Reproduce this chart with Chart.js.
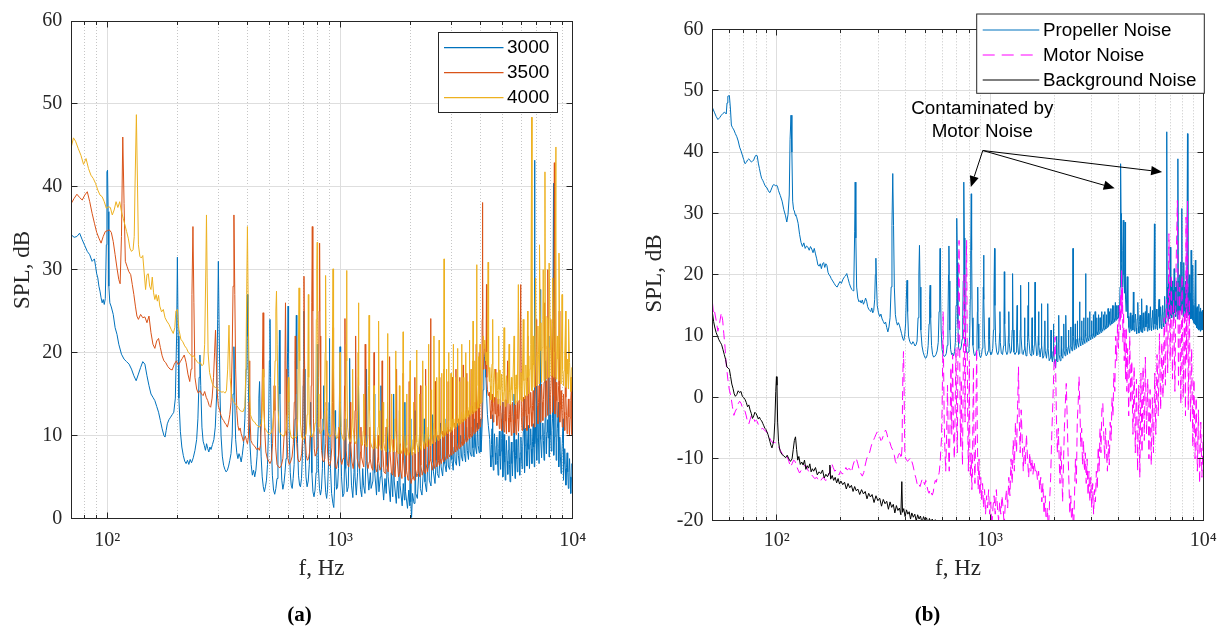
<!DOCTYPE html>
<html>
<head>
<meta charset="utf-8">
<title>SPL spectra</title>
<script src="https://cdn.jsdelivr.net/npm/chart.js@4.4.1/dist/chart.umd.min.js"></script>
<style>
  html, body { margin: 0; padding: 0; background: #ffffff; width: 1225px; height: 628px; overflow: hidden; }
  canvas { position: absolute; left: 0; top: 0; }
</style>
</head>
<body>
<canvas id="panelA" width="1225" height="628"></canvas>
<canvas id="panelB" width="1225" height="628"></canvas>
<script>
// ---------- axis ticks and labels ----------
const xDecades = [100, 1000, 10000];
const xDecadeText = ['10\u00B2', '10\u00B3', '10\u2074'];
const minorSteps = [2, 3, 4, 5, 6, 7, 8, 9];
const yTicksA = [0, 10, 20, 30, 40, 50, 60];
const yTicksB = [-20, -10, 0, 10, 20, 30, 40, 50, 60];
const rpmLabels = ['3000', '3500', '4000'];
const sourceLabels = ['Propeller Noise', 'Motor Noise', 'Background Noise'];
const noteLines = ['Contaminated by', 'Motor Noise'];
// annotation anchor points [f (Hz), SPL (dB)]
const noteTextAt = [[920, 47.1], [920, 43.3]];
const noteFrom = [925, 40.25];
const noteTips = [[813, 34.3], [3842, 34.1], [6412, 36.75]];

// ---------- (a) spectra at three rotor speeds, flat [f, SPL, f, SPL, ...] ----------
const spl3000 = [
70,34.2, 72,33.9, 74,34.0, 76,34.4, 78,33.6, 80,32.9, 82,32.2, 84,31.8, 86,31.0, 88,31.3, 89,30.4, 90,29.5, 91,29.0, 92,28.0, 93,27.4, 94,26.6, 95,26.0, 96,26.4, 97,25.8, 98,26.5, 99,33, 99.6,41.8, 100.2,42, 100.8,37, 101.5,28, 102.5,26.0, 104,25.5, 106,24.6, 108,23.0, 110,22.2, 112,21.0, 115,19.8, 118,19.2, 121,18.9, 124,18.6, 127,18.0, 130,17.2, 133,16.6, 136,17.4, 139,18.2, 142,18.9, 145,18.6, 148,17.2, 151,16.0, 154,15.0, 157,14.6, 160,14.2, 163,13.5, 166,12.8, 169,11.8, 172,10.8, 175,10.0, 177,9.8, 179,10.6, 181,11.4, 184,11.9, 187,12.2, 190,12.5, 193,12.8, 196,14.5, 198.5,22, 200,31.5, 201.5,22, 203,14.5, 206,10.5, 209,8.6, 212,7.6, 215,6.9, 218,6.6, 221,7.0, 224,6.5, 227,7.1, 230,6.7, 234,7.3, 238,8.2, 242,9.5, 245,12, 248,17, 250,19.7, 252,16, 255,11, 258,9.3, 261,8.8, 264,8.2, 267,9.0, 270,8.4, 273,8.0, 276,8.6, 279,8.3, 283,8.9, 287,9.5, 291,11, 295,15, 298,24, 300,31, 302,24, 305,15, 308,10, 312,7.5, 316,6.4, 320,5.9, 324,5.6, 328,5.8, 332,6.3, 336,7.0, 340,7.8, 344,10, 347,15, 350,20.7, 353,14, 356,9.5, 360,7.9, 364,7.2, 368,7.8, 372,7.4, 376,6.8, 380,7.6, 385,9, 390,12, 395,18, 398,24, 400,27, 402,22, 405,14, 410,9, 415,6.5, 420,5.2, 425,5.8, 430,5.0, 435,5.8, 440,7.5, 445,11, 448,14.5, 451,16.5, 454,12, 458,7.5, 463,5.0, 468,3.8, 473,3.2, 478,3.8, 483,4.6, 488,6.5, 493,11, 497,19, 500,24, 503,17, 507,9, 512,5.2, 518,3.4, 524,2.9, 530,3.6, 536,4.8, 541,8, 546,16, 549,22.7, 552,15, 556,8, 562,4.6, 568,3.5, 574,4.2, 580,5.5, 586,7.2, 591,12, 595,20, 598,25.6, 601,20, 605,10, 611,5.5, 617,4.0, 623,3.6, 629,4.8, 635,6.5, 641,12, 646,20, 649,24.5, 652,18, 657,9, 663,5.2, 670,4.0, 676,3.8, 683,4.8, 690,8, 695,16, 699,25, 702,18, 707,9, 714,5.0, 722,3.8, 730,4.5, 738,6.5, 744,10, 748,14, 751,10, 757,5.5, 765,3.2, 773,2.6, 781,3.4, 789,5.5, 795,11, 799,21, 802,14, 808,6, 816,3.6, 824,2.8, 832,3.5, 840,6, 846,12, 850,16, 853,10, 860,5.2, 868,3.1, 876,2.4, 884,3.5, 892,6.5, 897,14, 900,21.7, 903,14, 910,6, 920,3.0, 932,1.8, 940,1.3, 948,3.8, 952,13, 957,6, 966,3.5, 976,3.8, 985,6, 993,13, 1000,20.7, 1006,11, 1015,5, 1028,2.6, 1040,3.0, 1047,8, 1052,12, 1058,6, 1072,3.2, 1085,3.8, 1094,9, 1100,19.3, 1106,9, 1120,4.0, 1135,2.5, 1148,5.5, 1153,10, 1160,5, 1175,2.8, 1190,5.5, 1200,17, 1208,7, 1225,3.5, 1240,2.6, 1252,6, 1262,4, 1280,3, 1292,7, 1300,18, 1308,6.5, 1330,3.4, 1350,5.5, 1360,3.6, 1385,4.5, 1400,15, 1410,5.5, 1435,2.8, 1452,6.5, 1470,3.2, 1490,5, 1500,16, 1510,5.5, 1540,2.2, 1560,4.8, 1580,3.0, 1592,6, 1600,14, 1610,5, 1645,2.0, 1660,5.5, 1685,2.6, 1695,6.5, 1700,15, 1710,4.5, 1745,1.8, 1765,4.5, 1790,2.4, 1800,13, 1812,4, 1850,1.5, 1870,4.2, 1892,2.2, 1900,14, 1912,3.2, 1950,1.2, 1975,3.4, 1995,1.5, 2000,12, 2015,2.0, 2030,0.1, 2050,3.0, 2080,1.8, 2100,13, 2115,3.0, 2150,2.4, 2175,5.0, 2200,11, 2215,3.6, 2250,2.8, 2280,5.6, 2300,12, 2318,4.4, 2355,3.2, 2380,6.2, 2400,11, 2420,4.6, 2460,3.9, 2485,6.8, 2500,12.5, 2520,5.6, 2560,4.2, 2590,7.0, 2600,10.5, 2620,5.4, 2660,4.9, 2690,7.6, 2700,11.5, 2720,6.2, 2760,5.1, 2790,7.2, 2800,12, 2820,6.6, 2860,5.6, 2890,8.1, 2900,10.5, 2920,6.3, 2960,5.9, 2990,8.4, 3000,11, 3025,7.1, 3065,5.8, 3090,8.6, 3100,10, 3125,6.9, 3165,6.4, 3190,9.0, 3200,11.5, 3225,7.6, 3265,6.3, 3290,9.1, 3300,10, 3325,7.5, 3365,6.9, 3390,9.5, 3400,12, 3425,7.8, 3465,6.8, 3490,9.7, 3500,11, 3525,8.2, 3565,7.1, 3590,9.6, 3600,12.5, 3625,8.0, 3665,7.5, 3690,10.1, 3700,11, 3725,8.5, 3765,7.4, 3790,10.2, 3800,12, 3825,8.6, 3865,7.8, 3890,10.4, 3900,11.5, 3925,8.8, 3965,7.9, 3990,10.5, 4000,12, 4030,8.0, 4060,9.5, 4090,12, 4120,15.5, 4150,18, 4180,19.5, 4210,20, 4240,17, 4270,14.5, 4300,12.5, 4340,11.2,
4400,9.5, 4425,7.6, 4450,6.2, 4475,8.9, 4500,10.8, 4520,12.5, 4540,7.4, 4560,5.8, 4585,8.6, 4610,10.2, 4640,7.9, 4670,6.5, 4695,8.7, 4720,9.8, 4750,7.0, 4780,5.2, 4810,8.4, 4840,10.5, 4870,7.5, 4900,5.9, 4925,8.1, 4950,9.6, 5000,14, 5010,5.0, 5040,8.0, 5070,10.1, 5100,6.8, 5130,4.6, 5160,7.6, 5190,9.4, 5225,6.9, 5260,5.3, 5290,8.2, 5320,9.9, 5350,6.5, 5380,4.4, 5415,7.4, 5450,9.2, 5480,6.6, 5510,5.1, 5545,8.1, 5580,10.0, 5600,15, 5625,7.2, 5650,4.8, 5680,7.6, 5710,9.5, 5745,7.2, 5780,5.6, 5815,8.5, 5850,10.3, 5885,7.3, 5920,5.2, 5955,7.9, 5990,9.8, 6025,7.4, 6060,6.0, 6100,8.7, 6140,10.6, 6200,14.5, 6210,5.5, 6250,8.8, 6290,10.9, 6325,8.1, 6360,6.3, 6400,9.2, 6440,11.2, 6480,8.3, 6520,6.0, 6560,8.9, 6600,10.8, 6640,8.4, 6680,6.6, 6720,9.3, 6760,11.4, 6800,8.6, 6840,6.2, 6850,43.2, 6885,9.0, 6920,11.0, 6960,8.9, 7000,16, 7010,7.0, 7050,9.6, 7090,11.8, 7130,9.2, 7170,6.6, 7250,27.6, 7260,12.0, 7305,9.5, 7350,7.3, 7395,10.0, 7440,11.5, 7485,9.4, 7530,7.0, 7575,10.1, 7620,12.2, 7650,19, 7680,9.8, 7710,7.8, 7755,10.4, 7800,11.9, 7850,9.7, 7900,22, 7910,7.4, 7950,10.2, 7990,12.5, 8040,10.0, 8090,8.1, 8140,10.6, 8190,12.0, 8270,40.4, 8290,7.6, 8340,9.8, 8390,11.6, 8450,17, 8490,7.0, 8540,9.1, 8590,10.8, 8700,14, 8710,6.2, 8755,8.3, 8800,9.8, 8855,7.5, 8910,5.4, 8965,7.4, 9020,9.0, 9100,12, 9130,4.6, 9185,6.6, 9240,8.4, 9295,6.0, 9350,4.0, 9405,6.1, 9460,7.9, 9520,5.6, 9580,3.6, 9635,5.5, 9690,7.2, 9750,5.0, 9810,3.0, 9870,4.9, 9930,6.6, 10000,3.2
];

const spl3500 = [
70,38.0, 72,38.6, 74,39.1, 76,38.7, 78,38.4, 80,39.0, 82,39.4, 84,38.2, 86,36.8, 88,35.6, 90,34.5, 92,33.8, 94,33.2, 96,34.0, 98,34.6, 100,34.7, 102,34.8, 104,34.5, 106,33.4, 108,31.8, 110,30.2, 112,28.8, 113.5,28.3, 115,34, 116.5,46, 118,38, 119.5,31, 121.5,30.4, 123.5,29.8, 126,29.4, 128,28.2, 130,27.0, 132,25.6, 134,24.4, 136,24.0, 139,24.6, 142,24.2, 145,24.3, 148,23.6, 151,24.4, 154,22.4, 157,21.0, 160,20.5, 163,21.4, 166,21.7, 169,20.6, 172,19.6, 175,19.0, 178,18.8, 182,18.3, 186,18.0, 190,17.9, 194,18.6, 198,19.0, 202,18.5, 206,18.9, 210,19.3, 214,19.7, 218,18.8, 222,17.4, 226,16.5, 229,18, 231,27, 233.3,35.2, 235.5,26, 238,17, 242,15.6, 246,15.1, 250,15.4, 254,15.0, 258,14.8, 262,15.3, 266,14.6, 270,14.2, 274,13.6, 278,13.4, 282,14.5, 286,17, 289,20, 291.7,22.7, 294,19, 297,15, 300,13.6, 304,13.0, 308,12.4, 312,12.0, 316,11.8, 320,11.5, 324,11.3, 328,11.0, 332,11.6, 336,12.5, 340,14, 344,20, 347,28, 350,36.6, 353,27, 356,18, 360,13, 364,11.2, 368,10.6, 372,10.9, 376,10.2, 380,9.8, 384,9.3, 388,9.6, 392,9.9, 396,9.4, 400,9.0, 404,9.8, 407,14, 408.3,19, 410,13, 414,9.4, 420,9.0, 426,8.8, 432,8.6, 438,8.3, 444,8.5, 450,8.2, 455,8.8, 460,12, 464,18, 467,24.8, 470,17, 474,11, 480,8.0, 487,7.2, 494,6.9, 500,6.6, 507,7.0, 513,9, 518,13, 521,16, 525,13, 529,8.5, 536,6.5, 544,6.2, 552,6.1, 560,6.4, 568,7.2, 575,10, 580,19, 583,26, 586,18, 590,10, 597,7.2, 605,6.5, 613,6.8, 622,7.4, 630,9, 636,14, 640,19, 642,22, 645,15, 650,9.5, 658,7.2, 667,6.8, 676,7.0, 684,7.8, 691,10, 696,18, 700,29.2, 704,19, 709,10, 716,7.6, 724,7.0, 732,7.2, 740,8.0, 747,10, 752,16, 756,26, 760,35.2, 764,25, 769,12, 775,8.4, 782,7.5, 790,7.8, 798,8.5, 804,11, 809,17, 813,25, 817,33.2, 821,22, 826,12, 833,8.2, 842,7.0, 851,6.8, 860,7.2, 868,9, 872,14, 875,19, 878,13, 884,8.0, 893,6.6, 903,6.3, 913,7.0, 922,8.5, 928,14, 933,23, 938,13, 945,7.6, 955,6.2, 966,6.0, 976,6.8, 985,7.6, 990,11, 993,15, 997,9, 1006,7.0, 1018,6.5, 1030,7.2, 1040,10, 1046,16, 1050,24.1, 1054,15, 1062,8.2, 1075,6.6, 1090,6.2, 1100,7.5, 1108,14, 1112,9, 1125,6.8, 1140,6.0, 1152,7.4, 1160,13, 1167,22, 1173,12, 1185,7.2, 1200,6.4, 1215,6.0, 1225,8, 1230,11, 1235,7.5, 1250,6.8, 1265,6.2, 1275,9, 1283,21, 1290,10, 1305,6.6, 1320,6.0, 1335,6.8, 1342,11, 1348,7.2, 1365,6.2, 1382,5.8, 1393,9, 1400,20, 1407,9, 1422,6.0, 1440,5.6, 1455,7.5, 1460,10, 1465,7, 1485,5.8, 1505,6.2, 1512,10, 1517,19, 1524,8.5, 1545,5.6, 1565,5.4, 1573,8, 1578,11, 1585,6.5, 1610,5.6, 1626,8, 1633,19.5, 1640,8, 1665,5.4, 1685,5.2, 1692,9.5, 1700,6.4, 1725,5.0, 1742,8, 1750,18, 1758,7.5, 1785,5.0, 1805,5.6, 1812,9, 1818,6, 1845,4.8, 1860,8, 1867,17.5, 1875,7, 1900,5.0, 1918,5.4, 1925,8.5, 1932,5.8, 1960,4.6, 1976,8, 1983,16.5, 1992,6, 2020,4.2, 2040,4.8, 2050,8, 2058,5.2, 2085,4.6, 2094,7.5, 2100,17, 2108,6, 2140,5.0, 2160,5.4, 2168,8.5, 2175,5.8, 2205,5.0, 2217,16, 2226,6.4, 2255,5.2, 2278,5.8, 2285,9, 2292,6.0, 2322,5.4, 2333,18, 2342,6.6, 2375,5.6, 2395,6.2, 2402,9.5, 2410,6.4, 2440,7, 2450,24.1, 2460,7.2, 2490,5.8, 2512,6.4, 2520,10, 2528,6.6, 2555,6.0, 2567,16.5, 2576,7.0, 2605,6.2, 2628,6.8, 2637,10, 2645,7.0, 2672,6.4, 2683,17, 2692,7.2, 2725,6.6, 2745,7.2, 2755,10.5, 2762,7.4, 2790,6.8, 2800,18, 2810,7.6, 2840,7.0, 2862,7.4, 2870,11, 2878,7.6, 2905,7.2, 2917,16.5, 2928,7.8, 2960,7.4, 2980,7.8, 2988,11, 2996,8.0, 3025,7.6, 3033,17, 3045,8.2, 3075,7.8, 3100,8.2, 3108,11.5, 3116,8.4, 3140,8.0, 3150,18, 3160,8.6, 3195,8.2, 3215,8.8, 3225,12, 3235,8.8, 3255,8.4, 3267,17, 3278,9.0, 3305,8.6, 3330,9.2, 3342,12, 3352,9.2, 3372,8.8, 3383,18.5, 3395,9.4, 3420,9.0, 3450,9.6, 3458,12.5, 3468,9.6, 3490,9.2, 3500,17.5, 3512,9.8, 3540,9.4, 3565,10, 3575,13, 3585,10, 3605,9.6, 3617,18, 3630,10.2, 3660,9.8, 3685,10.4, 3692,13.5, 3702,10.4, 3722,10.0, 3733,19, 3745,10.6, 3775,10.2, 3800,10.8, 3810,14, 3820,10.8, 3840,10.4, 3850,21, 3862,11.0, 3890,10.6, 3915,11.2, 3925,14, 3935,11.2, 3955,10.8, 3967,20, 3980,11.4, 4010,11.0, 4040,12, 4070,14, 4083,24, 4092,33, 4100,38.1, 4108,30, 4120,18, 4150,19.5, 4180,21, 4210,20, 4240,18, 4260,28.2, 4275,17, 4300,15.5, 4340,14.8, 4380,15.2,
4400,14.6, 4425,13.0, 4450,12.0, 4475,13.8, 4500,15.0, 4530,12.9, 4560,11.6, 4585,13.4, 4610,14.6, 4640,12.6, 4670,18, 4695,12.4, 4720,11.2, 4750,13.2, 4780,14.4, 4810,12.3, 4840,10.8, 4870,12.9, 4900,14.2, 4925,12.0, 4950,10.6, 4980,12.7, 5010,14.0, 5040,11.8, 5070,10.4, 5100,12.6, 5130,14.3, 5160,11.7, 5190,10.2, 5250,19, 5285,12.1, 5320,10.4, 5350,12.5, 5380,13.8, 5415,11.6, 5450,10.0, 5480,12.3, 5510,14.0, 5545,11.9, 5580,10.3, 5615,12.4, 5650,13.7, 5680,11.5, 5710,10.1, 5745,12.6, 5780,14.2, 5815,12.0, 5850,10.5, 5915,13.8, 5980,28.2, 6020,12.2, 6060,10.6, 6100,12.9, 6140,14.6, 6175,12.3, 6210,10.8, 6250,13.0, 6290,14.8, 6325,12.4, 6360,10.6, 6420,22, 6440,15.0, 6480,12.6, 6520,10.9, 6560,13.4, 6600,15.2, 6640,12.8, 6680,11.1, 6720,13.6, 6760,15.4, 6800,13.0, 6840,11.0, 6880,13.8, 6920,15.6, 7000,24, 7045,13.6, 7090,11.4, 7130,14.0, 7170,16.0, 7215,13.9, 7260,11.6, 7305,14.2, 7350,16.2, 7395,14.0, 7440,11.8, 7485,14.3, 7530,16.4, 7580,26, 7620,12.2, 7665,14.6, 7710,16.6, 7755,14.4, 7800,12.4, 7830,30, 7900,16.8, 7945,14.6, 7990,12.6, 8040,14.9, 8090,17.0, 8170,24, 8190,12.8, 8240,14.9, 8290,16.8, 8340,42.9, 8390,12.6, 8440,14.6, 8490,16.4, 8540,14.2, 8590,12.2, 8645,14.1, 8700,16.0, 8750,25, 8800,11.6, 8855,13.6, 8910,15.4, 8965,13.2, 9020,11.0, 9075,13.1, 9130,15.0, 9185,12.8, 9240,10.6, 9330,20, 9350,14.6, 9405,12.4, 9460,10.2, 9520,12.3, 9580,14.4, 9635,12.2, 9690,10.0, 9750,12.1, 9810,14.2, 9900,17, 9930,10.1, 9965,12.0, 10000,13.0
];

const spl4000 = [
70,44.8, 71.5,45.9, 73,45.5, 75,44.6, 77,43.8, 79,42.7, 81,43.4, 83,42.2, 85,41.4, 87,41.0, 89,40.4, 91,39.6, 93,39.0, 95,38.8, 97,38.2, 99,37.4, 101,37.6, 103,37.5, 105,36.6, 107,37.2, 109,38.2, 111,37.5, 113,38.2, 115,37.0, 117,36.2, 119,35.4, 121,34.6, 123,33.8, 125,32.6, 127,32.2, 129,32.4, 130.5,34, 131.5,40, 133.3,48.7, 134.8,40, 136,33, 138,31.6, 140,31.4, 142,31.7, 144,29.6, 146,27.6, 148,29.4, 150,29.5, 152,28.0, 154,27.6, 156,29.1, 158,27.2, 160,26.4, 162,27.0, 164,26.2, 166,26.9, 168,25.6, 171,24.9, 174,25.2, 177,24.2, 180,23.8, 184,23.4, 188,22.8, 192,22.3, 195,23, 197,25, 200,25.2, 203,22.8, 207,21.6, 211,21.3, 215,20.8, 219,20.5, 223,20.0, 227,19.8, 231,19.5, 235,19.6, 239,19.2, 243,18.9, 247,18.7, 251,18.8, 255,18.4, 259,18.6, 262,21, 265,30, 266.7,36.6, 268.5,29, 271,20, 275,17.6, 279,16.8, 283,16.2, 287,15.9, 291,15.8, 295,15.7, 299,15.5, 303,15.4, 307,15.3, 311,15.2, 315,15.3, 320,15.1, 325,15.4, 329,18, 333.3,23.3, 337,17, 342,14.6, 348,14.1, 354,13.8, 360,13.6, 366,13.3, 372,13.0, 378,12.9, 384,12.9, 390,13.5, 394,18, 397,27, 400,35.2, 403,26, 407,16, 412,12.5, 418,12.0, 424,11.7, 430,11.6, 436,11.3, 442,11.2, 448,11.0, 454,11.1, 460,11.5, 464,14, 467,18, 470,13, 475,10.9, 482,10.6, 490,10.3, 498,10.1, 506,10.3, 514,11, 520,13, 526,19, 530,25, 533.3,27.4, 537,21, 542,13, 548,10.5, 555,10.2, 563,10.0, 571,9.9, 579,10.2, 587,10.6, 593,12.5, 597,15.5, 600,17, 603,14, 608,10.8, 616,9.8, 625,9.6, 634,9.9, 643,9.7, 652,9.9, 658,12, 662,20, 666.7,27.8, 671,19, 676,11.5, 684,9.8, 692,9.5, 700,9.6, 708,9.9, 716,10.2, 722,12.5, 727,17, 731,27, 734,17, 739,11.5, 748,10.0, 757,9.8, 766,10.2, 775,10.5, 782,11.5, 787,15, 791,24, 795,30, 798,33.3, 801,25, 805,15, 811,11, 820,10.2, 830,10.4, 840,10.6, 850,10.8, 858,13, 863,20, 867,29.3, 871,19, 876,12, 885,10.4, 895,10.0, 905,9.8, 915,10.1, 922,12.5, 927,20, 933,30.1, 938,18, 944,11.5, 955,10.2, 967,9.6, 978,9.8, 990,11, 996,15, 1000,20, 1004,14, 1012,10.4, 1025,9.7, 1038,9.4, 1050,9.8, 1058,13, 1063,21, 1067,29.9, 1071,19, 1078,11, 1092,9.6, 1106,9.2, 1118,9.8, 1128,12, 1133,18, 1138,11, 1152,9.4, 1168,9.0, 1182,9.6, 1190,13, 1196,20, 1200,26, 1205,16, 1214,10, 1230,9.2, 1248,8.8, 1258,10.5, 1265,15, 1271,10, 1288,8.8, 1305,8.6, 1318,9.8, 1326,16, 1333,24.5, 1340,13, 1352,9.2, 1370,8.6, 1388,8.4, 1396,11, 1400,16, 1405,10.5, 1425,8.6, 1445,8.4, 1458,11, 1463,17, 1467,23.8, 1472,13, 1485,8.8, 1505,8.2, 1525,8.4, 1533,14, 1540,9.2, 1560,8.2, 1580,8.0, 1592,12, 1600,22.3, 1607,11, 1625,8.4, 1645,8.0, 1660,9.6, 1667,15, 1674,9.0, 1695,8.0, 1715,8.2, 1726,12, 1733,20.2, 1740,10.5, 1760,8.2, 1780,7.8, 1792,9.8, 1800,16, 1808,9.0, 1830,7.8, 1848,8.2, 1860,12, 1867,22.5, 1874,10.5, 1895,8.0, 1915,7.6, 1926,10, 1933,15, 1940,8.8, 1962,7.6, 1982,8.0, 1993,11, 2000,19, 2008,9.0,
2040,7.6, 2062,9.5, 2067,14, 2074,8.4, 2105,7.8, 2126,10, 2133,20.3, 2141,9.2, 2172,8.0, 2194,10, 2200,15, 2207,8.8, 2238,8.2, 2260,10.5, 2267,19, 2275,9.4, 2305,8.4, 2327,10.2, 2333,16, 2341,9.2, 2372,8.6, 2393,11, 2400,21, 2408,9.8, 2438,8.8, 2460,10.6, 2467,15.5, 2475,9.6, 2505,9.0, 2526,11.5, 2533,22, 2541,10.2, 2572,9.2, 2594,10.8, 2600,17, 2608,10.0, 2638,9.4, 2660,11.5, 2667,21.5, 2675,10.4, 2705,9.6, 2727,11, 2733,17.5, 2741,10.2, 2772,9.8, 2793,16, 2800,31.3, 2806,14, 2813,10.6, 2838,10.0, 2860,11.5, 2867,18, 2875,10.6, 2905,10.2, 2927,11.8, 2933,20, 2941,10.8, 2972,10.4, 2994,11.5, 3000,17.5, 3008,10.8, 3038,10.6, 3060,12, 3067,21, 3075,11.2, 3105,10.8, 3127,12, 3133,17, 3141,11.2, 3172,11.0, 3194,12.4, 3200,20.5, 3208,11.6, 3238,11.2, 3260,12.5, 3267,16.5, 3275,11.6, 3305,11.4, 3327,12.8, 3333,21, 3341,12.0, 3372,11.6, 3394,12.8, 3400,17, 3408,12.0, 3438,11.8, 3460,13, 3467,20, 3475,12.2, 3505,12.0, 3527,13.2, 3533,16.5, 3541,12.4, 3572,12.2, 3594,13.4, 3600,21.5, 3608,12.6, 3638,12.4, 3660,13.6, 3667,18, 3675,12.8, 3705,12.6, 3727,16, 3733,23.8, 3741,13.0, 3772,12.8, 3794,14, 3800,19, 3808,13.2, 3840,13.0, 3860,20, 3867,30.6, 3874,16, 3905,13.2, 3927,14.2, 3933,19.5, 3941,13.4, 3972,13.4, 3994,14.6, 4000,21, 4008,13.8, 4040,14, 4070,16, 4100,19, 4130,22, 4160,20.5, 4190,21.5, 4220,19, 4250,20, 4280,18.5, 4310,22, 4330,30.9, 4350,18, 4380,16.5,
4400,18.2, 4425,16.0, 4450,14.3, 4475,16.9, 4500,18.6, 4530,24, 4545,15.6, 4560,14.0, 4585,16.4, 4610,18.0, 4640,16.2, 4670,14.6, 4695,16.6, 4720,17.6, 4750,15.4, 4780,13.8, 4800,22, 4820,15.6, 4840,17.9, 4870,15.5, 4900,13.6, 4925,15.9, 4950,17.4, 4980,15.2, 5010,14.1, 5070,23, 5100,15.3, 5130,13.5, 5160,15.8, 5190,17.2, 5225,15.4, 5260,13.9, 5330,21, 5355,15.2, 5380,13.7, 5415,15.6, 5450,17.0, 5480,15.5, 5510,14.2, 5600,22, 5625,15.6, 5650,13.8, 5680,15.9, 5710,17.3, 5745,15.6, 5780,14.0, 5840,28.2, 5880,16.0, 5920,14.3, 5955,16.3, 5990,17.6, 6025,15.8, 6060,14.1, 6130,24, 6170,16.6, 6210,14.4, 6250,16.8, 6290,18.5, 6325,16.5, 6360,14.8, 6400,25, 6420,17.0, 6440,19.6, 6480,17.2, 6520,15.0, 6560,18.0, 6600,21.0, 6670,48.4, 6680,15.4, 6720,18.8, 6760,22.0, 6800,18.5, 6840,15.8, 6930,29, 6965,19.5, 7000,16.0, 7045,20.0, 7090,23.2, 7130,19.8, 7170,16.2, 7200,33, 7260,23.6, 7305,20.2, 7350,16.4, 7395,20.6, 7440,24.0, 7470,30, 7530,16.6, 7600,41.8, 7620,24.4, 7665,20.4, 7710,16.8, 7755,20.8, 7800,24.2, 7850,20.6, 7900,17.0, 7920,30.8, 7990,24.0, 8040,20.3, 8090,17.2, 8140,20.5, 8190,23.6, 8200,29, 8290,17.0, 8340,20.0, 8390,23.0, 8470,44.8, 8490,16.8, 8540,19.5, 8590,22.0, 8645,19.2, 8700,16.6, 8730,32, 8800,21.0, 8855,18.5, 8910,16.2, 9000,27, 9020,20.2, 9075,18.0, 9130,16.0, 9185,17.8, 9240,19.6, 9330,25, 9350,15.8, 9405,17.6, 9460,19.2, 9520,17.4, 9580,15.6, 9600,24, 9690,18.8, 9750,17.0, 9810,15.3, 9870,16.8, 9930,18.2, 10000,15.4
];

// ---------- (b) noise sources, flat [f, SPL, f, SPL, ...] ----------
const propellerNoise = [
50,47.2, 51,46.5, 52,45.8, 53,45.3, 54,45.6, 55,46.0, 56,46.3, 57,46.5, 58,46.2, 58.5,48, 59,49.1, 60,49.2, 60.7,47, 61.3,44.4, 62,44.0, 63,43.6, 64,43.0, 65,42.5, 66,41.8, 67,40.8, 68,40.2, 69,39.5, 70,38.8, 71,38.1, 72,38.3, 73,38.7, 74,38.9, 75,38.6, 76,38.4, 77,38.5, 78,38.7, 79,39.2, 80,39.5, 81,39.4, 82,38.2, 83,37.3, 84,36.4, 85,35.7, 86,35.4, 87,35.0, 88,34.6, 89,34.3, 90,34.2, 91,33.8, 92,33.5, 93,33.4, 94,33.8, 95,34.2, 96,34.6, 97,34.7, 98,34.6, 99,34.5, 100,34.6, 101,34.3, 102,33.7, 104,32.9, 106,32.0, 108,30.6, 110,29.6, 111.5,28.6, 113,29.8, 114.5,33, 115.5,42, 116.7,46, 117.8,40, 118.8,32, 120,30.6, 121,30.4, 122,29.8, 123,29.6, 124,29.4, 126,28.4, 128,26.6, 130,25.3, 132,24.6, 134,25.2, 136,24.3, 138,24.7, 140,24.5, 142,24.0, 144,24.6, 146,24.2, 148,23.6, 150,24.3, 152,23.4, 154,22.6, 156,21.6, 158,21.4, 160,21.8, 162,21.0, 164,21.8, 166,22.0, 168,21.2, 170,21.8, 172,21.5, 174,20.4, 176,20.0, 178,19.8, 180,19.4, 183,19.0, 186,18.6, 189,18.2, 192,18.0, 195,18.5, 198,18.9, 201,18.6, 204,19.2, 207,19.6, 210,19.8, 213,20.2, 216,19.4, 219,18.6, 222,18.0, 225,17.6, 228,17.4, 230,19, 232,27, 233.3,35.1, 235,26, 237,18, 240,16.2, 243,15.6, 246,15.8, 249,15.4, 252,15.9, 255,15.2, 258,15.6, 261,16.2, 264,15.7, 267,14.8, 270,14.4, 273,14.2, 276,14.0, 279,14.6, 282,13.8, 285,14.2, 288,16, 290,20, 291.7,22.7, 293.5,19, 296,15, 300,13.8, 304,13.2, 308,13.6, 312,12.8, 316,12.4, 320,12.0, 324,12.3, 328,11.4, 332,10.7, 336,11.5, 340,13, 344,18, 347,28, 350,36.5, 353,28, 356,18, 360,13.5, 364,12.4, 368,11.8, 372,12.2, 376,11.8, 380,11.2, 385,10.4, 390,9.6, 394,9.3, 398,10, 402,12, 405,16, 408.3,19.1, 411,14, 415,10, 420,9.2, 425,8.8, 430,8.7, 435,9.1, 440,8.8, 445,8.4, 450,8.6, 455,9.2, 460,13, 464,20, 467,24.8, 470,18, 474,11, 480,8.4, 486,7.4, 492,6.8, 498,6.4, 503,6.5, 508,7.0, 513,8.5, 518,12, 521,16, 524,18.3, 527,13, 532,8.5, 538,7.0, 544,6.6, 551,6.7, 558,7.0, 565,7.6, 572,9, 577,14, 581,20, 583.3,24.3, 586,18, 590,11, 596,7.8, 603,7.0, 610,6.7, 617,6.8, 624,7.2, 630,8.5, 635,12, 639,20, 641.7,24.7, 644,19, 648,11, 654,7.8, 661,7.0, 668,7.2, 675,6.8, 682,7.5, 688,9, 693,15, 697,23, 700,29.2, 703,22, 707,12, 713,8.0, 720,7.7, 727,7.8, 734,8.4, 740,9.5, 745,13, 749,19, 752,26, 755,35.1, 758,26, 762,14, 768,9, 775,7.6, 782,7.2, 790,7.4, 797,8.0, 803,10, 808,16, 812,24, 816.7,33.2, 820,24, 825,13, 832,8.5, 840,7.2, 848,6.8, 856,7.0, 864,7.6, 869,10, 873,14, 876,18, 879,12, 886,8.0, 895,6.8, 904,6.5, 913,7.0, 920,8.0, 926,12, 930,18, 933.3,23.2, 937,16, 943,9.5, 950,7.4, 960,6.8, 970,7.0, 980,7.6, 986,10, 990,13, 993,9.5, 1000,7.4, 1010,7.0, 1020,7.2, 1030,8.0, 1038,11, 1044,17, 1050,24.3, 1055,15, 1063,9.0, 1075,7.4, 1088,7.0, 1100,7.6, 1110,10.5, 1113,14, 1118,9, 1130,7.2, 1145,7.0, 1158,8.4, 1163,13, 1167,20.5, 1172,12, 1185,7.6, 1200,7.0, 1212,7.4, 1220,10, 1225,14, 1230,9, 1245,7.2, 1260,7.6, 1270,11, 1276,20.2, 1282,11, 1295,7.4, 1310,7.0, 1325,7.4, 1333,11, 1340,15, 1346,9, 1362,7.0, 1378,7.2, 1386,11, 1392,18.3, 1398,10, 1415,7.2, 1430,7.0, 1445,7.8, 1452,13, 1458,8.5, 1475,6.8, 1490,7.0, 1500,9, 1508,15, 1514,18.8, 1520,10, 1540,7.2, 1560,6.8, 1570,9.5, 1575,13, 1580,8, 1600,7.0, 1612,8.5, 1620,12, 1626,18.8, 1632,10, 1655,6.8, 1675,7.0, 1685,10, 1690,14, 1696,8.5, 1718,6.6, 1735,8, 1742,15.3, 1749,8.5, 1770,6.4, 1790,6.8, 1802,10, 1808,12.5, 1815,7.6, 1840,6.4, 1858,8, 1865,15.3, 1872,8, 1895,6.0, 1915,6.4, 1925,9, 1932,11, 1940,6.8, 1962,5.8, 1975,7.5, 1983,12, 1991,7, 2015,5.4, 2030,4.8, 2042,6.2, 2050,10, 2058,6, 2080,5.8, 2092,9, 2100,13.4, 2108,7, 2135,6.0, 2152,7, 2160,10, 2168,6.8, 2195,6.4, 2208,8, 2217,12, 2225,7.6, 2250,6.8, 2262,8.5, 2270,13.4, 2278,8, 2305,7.0, 2322,8.2, 2333,11, 2341,8.2, 2365,7.2, 2380,8.5, 2392,11.5, 2400,8.4, 2425,7.6, 2440,10, 2450,24.3, 2458,10, 2485,7.8, 2500,8.8, 2510,12, 2518,8.6, 2545,8.0, 2558,9.5, 2567,12.5, 2575,9, 2605,8.2, 2620,9.6, 2630,15.6, 2640,9.4, 2665,8.4, 2680,9.8, 2690,12.5, 2698,9.4, 2725,8.6, 2742,9.6, 2750,13, 2758,9.6, 2785,8.8, 2800,11, 2808,20.2, 2816,10, 2845,9.0, 2860,9.8, 2870,13, 2878,9.8, 2905,9.2, 2920,10, 2933,14, 2941,10, 2968,9.4, 2985,10.2, 2995,12.5, 3003,10, 3030,9.6, 3045,10.4, 3050,13.5, 3058,10.2, 3085,9.8, 3100,11.5, 3108,14, 3116,10.4, 3140,10, 3155,10.6, 3167,13, 3175,10.6, 3200,10.2, 3215,10.8, 3225,13.5, 3233,10.8, 3260,10.4, 3275,11, 3283,13, 3291,11, 3318,10.6, 3333,11.2, 3342,14, 3350,11.2, 3378,10.8, 3392,11.4, 3400,13.5, 3408,11.4, 3435,11, 3450,11.6, 3458,14, 3466,11.6, 3493,11.2, 3508,11.8, 3517,13.5, 3525,11.8, 3552,11.4, 3567,12, 3575,14.5, 3583,12, 3610,11.6, 3625,12.2, 3633,14, 3641,12.2, 3668,11.8, 3683,12.4, 3692,14.5, 3700,12.4, 3727,12, 3742,12.6, 3750,15, 3758,12.6, 3785,12.2, 3800,12.8, 3808,15, 3816,12.8, 3843,12.4, 3858,13, 3867,15.5, 3875,13, 3902,12.6, 3917,13.2, 3925,15, 3933,13.2, 3960,12.8, 3975,13.4, 3983,15, 3991,13.4, 4020,13, 4050,14, 4070,18, 4085,25, 4095,33, 4105,38.1, 4115,30, 4130,22, 4160,18, 4190,24, 4215,28.9, 4240,20, 4270,17, 4300,28.6, 4320,16, 4350,14, 4400,19.7, 4430,13,
4450,13.2, 4475,11.4, 4500,10.6, 4525,12.6, 4550,13.8, 4575,11.2, 4600,10.9, 4625,12.9, 4650,13.4, 4675,11.0, 4700,17.2, 4725,12.2, 4750,10.8, 4780,12.5, 4810,13.6, 4840,11.3, 4870,10.4, 4900,12.8, 4930,15.5, 4960,11.6, 4990,10.5, 5020,12.4, 5050,13.4, 5080,11.1, 5110,10.7, 5140,16.1, 5170,10.6, 5200,12.7, 5230,13.8, 5260,11.4, 5290,10.9, 5320,12.6, 5350,14.0, 5380,11.5, 5410,15, 5440,12.0, 5470,10.8, 5500,12.9, 5530,13.7, 5560,11.3, 5590,11.0, 5620,13.1, 5650,14.8, 5690,11.6, 5720,10.9, 5750,13.0, 5780,14.2, 5815,11.7, 5850,11.1, 5900,28.3, 5930,12.0, 5960,11.2, 5995,13.3, 6030,14.4, 6065,11.8, 6100,11.0, 6135,13.2, 6170,14.6, 6200,16, 6240,11.3, 6275,13.4, 6310,14.8, 6345,12.0, 6380,11.2, 6415,13.5, 6450,15.0, 6485,12.1, 6520,11.5, 6555,13.9, 6590,16.5, 6625,12.5, 6660,12.0, 6700,14.5, 6740,43.3, 6770,13.5, 6800,18, 6840,12.4, 6870,20, 6910,13.2, 6940,17, 6970,12.8, 7000,24.5, 7040,13.4, 7070,18, 7110,13.0, 7150,19, 7190,13.6, 7220,17.5, 7260,12.6, 7300,21, 7340,13.8, 7380,18, 7420,13.2, 7450,18, 7490,14.0, 7520,19, 7560,12.8, 7600,38.9, 7640,13.5, 7680,19, 7720,13.9, 7760,20, 7800,14.2, 7850,22.1, 7890,13.6, 7930,30.8, 7970,14.0, 8010,19, 8050,13.2, 8100,22, 8140,14.1, 8180,18, 8220,13.6, 8260,19, 8300,13.4, 8340,20, 8380,13.0, 8430,43, 8470,13.8, 8520,18, 8560,13.4, 8600,20, 8650,13.0, 8690,17, 8730,12.8, 8770,24, 8820,12.9, 8860,16, 8900,12.6, 8940,21.6, 8990,12.2, 9030,15, 9080,12.0, 9120,15.5, 9180,22.4, 9220,11.8, 9260,14.6, 9300,11.4, 9350,14.8, 9400,11.2, 9440,14.2, 9490,11.0, 9530,15.2, 9580,11.1, 9620,14.0, 9670,10.8, 9710,14.6, 9760,11.0, 9800,14.0, 9850,11.2, 9900,14.2, 9950,11.0, 10000,12.0
];

const motorNoise = [
50,15.4, 50.5,13.8, 51,14.2, 52,12.6, 53,10.8, 54,12.2, 55,13.8, 55.8,12.6, 56.5,10.4, 57.3,8.0, 58,5.4, 59,3.0, 60,1.2, 61,0.2, 62,-1.5, 63,-2.9, 64,-2.2, 65,-1.8, 66,-1.0, 67,-0.6, 68,-0.9, 69,-1.6, 70,-2.0, 71,-2.2, 72,-3.0, 73,-4.0, 74,-4.3, 75,-3.6, 76,-3.0, 77,-2.9, 78,-3.4, 79,-3.9, 80,-3.7, 81,-3.9, 82,-4.4, 83,-4.7, 84,-5.0, 85,-5.1, 86,-5.0, 88,-5.4, 90,-5.6, 92,-6.4, 94,-7.0, 96,-7.4, 98,-7.3, 100,-7.5, 102,-8.0, 104,-8.6, 106,-9.1, 108,-9.5, 110,-9.8, 112,-9.6, 114,-10.4, 116,-11.3, 118,-10.8, 120,-10.2, 122,-10.4, 124,-11.2, 126,-11.8, 128,-12.3, 130,-11.9, 132,-11.6, 134,-11.2, 136,-11.0, 138,-11.3, 140,-11.8, 142,-12.2, 144,-12.4, 146,-12.6, 148,-12.9, 151,-13.2, 154,-13.0, 157,-13.5, 160,-13.7, 163,-13.2, 166,-13.0, 169,-13.5, 172,-13.4, 175,-12.8, 178,-11.8, 181,-10.7, 184,-11.4, 187,-12.0, 190,-11.8, 193,-12.2, 196,-12.6, 199,-12.0, 202,-12.4, 205,-12.4, 208,-12.0, 211,-11.4, 214,-11.8, 217,-11.6, 220,-11.6, 224,-12.2, 228,-11.0, 232,-10.2, 236,-9.9, 240,-10.8, 244,-11.8, 248,-12.4, 252,-12.8, 256,-12.2, 260,-11.0, 264,-10.0, 268,-9.4, 272,-9.1, 276,-8.2, 280,-7.4, 284,-7.0, 288,-6.5, 292,-6.0, 296,-5.6, 300,-5.8, 304,-6.4, 308,-7.0, 312,-6.8, 316,-6.2, 320,-5.6, 324,-5.3, 328,-5.8, 332,-6.6, 336,-7.0, 340,-7.4, 344,-8.0, 348,-8.4, 352,-8.6, 356,-9.4, 360,-10.4, 364,-10.7, 368,-10.0, 372,-9.4, 376,-9.1, 380,-9.3, 384,-10.0, 387,-8, 389,0, 391,5, 393,7.5, 395,4, 397,-4, 399,-9.5, 403,-10.0, 407,-10.2, 411,-10.4, 415,-10.2, 420,-10.0, 425,-9.8, 430,-10.4, 435,-11.0, 440,-11.8, 445,-12.6, 450,-13.2, 455,-14.0, 460,-14.5, 465,-14.2, 470,-14.5, 476,-13.8, 482,-13.2, 488,-13.6, 494,-14.2, 500,-13.5, 506,-14.4, 512,-15.2, 518,-15.6, 524,-15.0, 530,-15.5, 536,-15.9, 542,-15.4, 548,-14.2, 554,-13.5, 560,-13.8, 566,-13.0, 572,-12.9, 578,-12.2, 584,-10.5, 588,-8.5, 592,-6.9, 596,-2, 600,6, 603,14, 606,5, 610,-4, 614,-8,
620,-12, 626,-6, 632,2, 638,-8, 644,-12, 650,-4, 656,5, 662,-6, 668,7, 674,-5, 680,-10, 686,-3, 692,8, 698,-4, 703,-9, 708,10, 712,20, 716,25.6, 720,12, 724,-2, 728,-8, 733,3, 738,-6, 743,-11, 748,1, 752,12, 756,20, 760,8, 764,-4, 770,14, 774,22, 777,25.6, 780,15, 784,2, 788,-7, 792,-12, 796,-3, 800,6, 804,-8, 810,-13, 816,-9, 822,-15, 828,-12,
830,-6, 836,5, 842,-8, 850,-14, 858,-4, 866,8, 872,-6, 880,-15, 888,-10, 896,-16, 905,-13, 914,-17, 923,-14, 933,-18, 943,-15, 953,-19, 963,-16, 974,-18, 985,-15, 996,-19, 1008,-17, 1020,-21, 1032,-18, 1045,-16, 1058,-19, 1071,-15, 1084,-18, 1097,-20, 1110,-17, 1124,-19, 1138,-16, 1152,-18, 1166,-21, 1180,-17, 1195,-15, 1210,-18, 1225,-13, 1240,-16, 1255,-10, 1270,-14, 1285,-7, 1300,-12, 1316,-4, 1332,-9, 1348,-1, 1360,5, 1370,-3, 1385,-9, 1400,-2, 1416,-7, 1432,-12, 1448,-8, 1465,-11, 1482,-6, 1500,-10, 1518,-13, 1536,-9, 1554,-12, 1572,-10, 1590,-12.5, 1610,-10.5, 1630,-12, 1650,-11.5, 1670,-13.5, 1690,-12, 1710,-15, 1730,-13, 1750,-17, 1770,-14, 1792,-19, 1814,-16, 1836,-21, 1858,-18, 1880,-22, 1902,-17, 1925,-13, 1948,-6, 1970,-1, 1990,4, 2005,8, 2020,9.9, 2035,3, 2050,-4, 2070,-9, 2090,-5, 2110,-10, 2130,-14, 2150,-8, 2170,-12, 2190,-17, 2210,-11, 2232,-5, 2255,-1, 2278,2.3, 2300,-3, 2322,-9, 2345,-14, 2368,-19, 2392,-16, 2416,-21, 2440,-18, 2465,-22, 2490,-16, 2515,-10, 2540,-14, 2565,-4, 2590,-1, 2615,3.4, 2640,-2, 2665,-8, 2690,-5, 2715,-11, 2742,-7, 2770,-12, 2797,-9, 2825,-14, 2853,-10, 2882,-16, 2911,-12, 2940,-17, 2970,-13, 3000,-18, 3030,-14, 3060,-19, 3090,-15, 3121,-17, 3152,-12, 3184,-15, 3216,-8, 3248,-12, 3280,-5, 3313,-9, 3346,-2, 3380,-0.9, 3414,-6, 3448,-10, 3482,-5, 3517,-9, 3552,-12, 3588,-7, 3624,-11, 3660,-4, 3697,-7, 3734,0, 3771,-3, 3809,4, 3847,1, 3885,10, 3924,6, 3963,12, 4003,8, 4043,15, 4083,11, 4103,17, 4123,13, 4140,20.7, 4160,14, 4180,18, 4200,9, 4230,14, 4260,6, 4290,11, 4320,3, 4350,11.5, 4380,1,
4420,8, 4470,-3, 4520,10, 4570,-1, 4620,6, 4680,-6, 4740,5, 4800,-9, 4860,3, 4920,-12, 4980,2, 5040,-13, 5100,4, 5160,-9, 5220,5, 5290,-7, 5350,6.6, 5420,-6, 5490,3, 5560,-10, 5630,1.3, 5700,-11, 5770,0, 5840,-9, 5920,4, 5990,-6, 6070,7, 6150,-3, 6230,10.4, 6310,-2, 6390,9, 6470,0, 6560,13, 6640,2, 6720,16, 6810,4, 6900,26.7, 6990,6, 7080,20, 7170,3, 7260,16, 7360,1, 7460,22, 7560,32.1, 7650,2, 7750,18, 7850,-1, 7950,20, 8050,0, 8150,14, 8250,-3, 8300,29.4, 8350,6, 8430,32, 8500,-2, 8600,16, 8710,-4, 8820,8, 8930,-8, 9040,3, 9150,-10, 9260,0, 9380,-12, 9490,-2, 9610,-14, 9730,-4, 9850,-13, 10000,-6
];

const backgroundNoise = [
50,13.7, 50.6,12.4, 51.2,11.5, 52,10.6, 52.8,10.0, 53.6,9.4, 54.4,9.0, 55.2,8.6, 56,7.8, 56.8,7.0, 57.6,6.2, 58.4,5.0, 59.2,4.8, 60,4.6, 60.8,3.4, 61.6,2.2, 62.4,1.5, 63.2,0.6, 64,0.2, 65,0.5, 66,1.1, 67,0.8, 68,1.0, 69,0.2, 70,0.0, 71,-0.3, 72,-0.8, 73,-1.5, 74,-1.2, 75,-2.0, 76,-2.6, 77,-3.4, 78,-3.0, 79,-2.4, 80,-2.6, 81,-3.0, 82,-3.5, 83,-3.2, 84,-3.6, 85,-3.8, 86,-4.2, 87,-4.6, 88,-5.0, 89,-5.2, 90,-5.6, 91,-6.0, 92,-6.6, 93,-7.2, 94,-7.8, 95,-8.2, 96,-7.6, 97,-6.8, 98,-4, 99,1, 99.7,3.4, 100.3,2, 101,-4, 102,-7.2, 103,-8.2, 104,-8.8, 106,-9.3, 108,-9.5, 110,-9.8, 112,-9.4, 114,-10.0, 116,-10.4, 118,-10.0, 119.5,-8.5, 121,-7, 122.5,-6.4, 124,-8.5, 125.5,-10.2, 127,-9.6, 129,-10.9, 131,-10.5, 133,-11.0, 135,-10.2, 137,-11.7, 139,-11.1, 141,-11.5, 143,-10.8, 145,-12.1, 147,-11.6, 149,-12.0, 152,-11.4, 155,-12.6, 158,-12.1, 161,-12.4, 164,-11.8, 167,-13.1, 170,-12.5, 173,-12.9, 176,-12.3, 177.5,-11, 179,-13.3, 182,-12.7, 185,-13.5, 188,-13.0, 191,-13.9, 194,-13.2, 197,-14.1, 200,-13.6, 204,-14.2, 208,-13.8, 212,-14.9, 216,-14.0, 220,-14.7, 224,-14.3, 228,-15.3, 232,-14.5, 236,-15.2, 240,-14.9, 245,-15.8, 250,-15.0, 255,-15.7, 260,-15.3, 265,-16.5, 270,-15.6, 275,-16.2, 280,-15.8, 286,-17.1, 292,-16.0, 298,-16.8, 304,-16.4, 310,-17.7, 316,-16.6, 322,-17.3, 328,-16.9, 334,-18.2, 340,-17.0, 346,-17.9, 352,-17.4, 358,-18.8, 364,-17.6, 370,-18.4, 376,-18.0, 382,-19.1, 386,-13.7, 389,-18.7, 394,-18.1, 400,-19.4, 406,-18.3, 412,-19.0, 418,-18.6, 424,-19.8, 430,-18.8, 437,-19.5, 444,-19.0, 451,-20.1, 458,-19.1, 465,-19.8, 472,-19.3, 480,-20.4, 488,-19.4, 496,-20.0, 504,-19.6, 512,-20.6, 520,-19.7, 528,-20.3, 536,-19.8, 545,-20.8, 554,-19.9, 563,-20.5, 572,-20.0, 581,-21.0, 590,-20.1, 600,-20.6, 610,-20.2, 620,-21.1, 630,-20.3, 640,-20.9, 652,-20.4, 664,-21.3, 676,-20.6, 690,-21.3, 705,-21.5, 720,-22
];

// ---------- styling ----------
const AXIS = '#262626';
const MAJOR_GRID = '#dedede';
const MINOR_GRID = '#c6c6c6';
const SERIF = '"Liberation Serif", "Times New Roman", serif';
const SANS = '"Liberation Sans", Arial, sans-serif';

// flat [f, v, f, v, ...] -> sorted {x, y} points
function toPoints(flat) {
  const out = [];
  for (let i = 0; i + 1 < flat.length; i += 2) out.push({ x: flat[i], y: flat[i + 1] });
  out.sort((a, b) => a.x - b.x);
  return out;
}

const snap = v => Math.round(v - 0.5) + 0.5;

function minorValues(scale) {
  const vals = [];
  for (let d = 1; d < scale.max; d *= 10) {
    for (const m of minorSteps) {
      const v = m * d;
      if (v > scale.min && v < scale.max) vals.push(v);
    }
  }
  return vals;
}

// grid below the curves, boxed axes with inward ticks above them
const frame = {
  id: 'frame',
  beforeDatasetsDraw(chart) {
    const { ctx, chartArea: a } = chart;
    const xs = chart.scales.x, ys = chart.scales.y;
    ctx.save();
    ctx.lineWidth = 1;
    ctx.strokeStyle = MINOR_GRID;
    ctx.setLineDash([1, 2]);
    ctx.beginPath();
    minorValues(xs).forEach(v => {
      const p = snap(xs.getPixelForValue(v));
      ctx.moveTo(p, a.top); ctx.lineTo(p, a.bottom);
    });
    ctx.stroke();
    ctx.setLineDash([]);
    ctx.strokeStyle = MAJOR_GRID;
    ctx.beginPath();
    xs.ticks.forEach(t => {
      const p = snap(xs.getPixelForValue(t.value));
      ctx.moveTo(p, a.top); ctx.lineTo(p, a.bottom);
    });
    ys.ticks.forEach(t => {
      const p = snap(ys.getPixelForValue(t.value));
      ctx.moveTo(a.left, p); ctx.lineTo(a.right, p);
    });
    ctx.stroke();
    ctx.restore();
  },
  afterDatasetsDraw(chart) {
    const { ctx, chartArea: a } = chart;
    const xs = chart.scales.x, ys = chart.scales.y;
    const L = snap(a.left), R = snap(a.right), T = snap(a.top), B = snap(a.bottom);
    ctx.save();
    ctx.strokeStyle = AXIS;
    ctx.lineWidth = 1;
    ctx.beginPath();
    xs.ticks.forEach(t => {
      const p = snap(xs.getPixelForValue(t.value));
      ctx.moveTo(p, B); ctx.lineTo(p, B - 6);
      ctx.moveTo(p, T); ctx.lineTo(p, T + 6);
    });
    minorValues(xs).forEach(v => {
      const p = snap(xs.getPixelForValue(v));
      ctx.moveTo(p, B); ctx.lineTo(p, B - 3.5);
      ctx.moveTo(p, T); ctx.lineTo(p, T + 3.5);
    });
    ys.ticks.forEach(t => {
      const p = snap(ys.getPixelForValue(t.value));
      ctx.moveTo(L, p); ctx.lineTo(L + 6, p);
      ctx.moveTo(R, p); ctx.lineTo(R - 6, p);
    });
    ctx.stroke();
    ctx.strokeRect(L, T, R - L, B - T);
    ctx.restore();
  }
};

// axis titles and panel tag
const panelText = {
  id: 'panelText',
  afterDraw(chart, args, o) {
    const { ctx } = chart;
    ctx.save();
    (o.items || []).forEach(it => {
      ctx.font = it.font;
      ctx.fillStyle = it.color || AXIS;
      ctx.textAlign = 'center';
      ctx.textBaseline = 'alphabetic';
      ctx.save();
      ctx.translate(it.x, it.y);
      if (it.rotate) ctx.rotate(it.rotate);
      ctx.fillText(it.text, 0, 0);
      ctx.restore();
    });
    ctx.restore();
  }
};

// boxed legend with line samples taken from the datasets
const boxLegend = {
  id: 'boxLegend',
  afterDraw(chart, args, o) {
    if (!o || !o.width) return;
    const { ctx } = chart;
    ctx.save();
    ctx.fillStyle = '#ffffff';
    ctx.fillRect(o.left, o.top, o.width, o.height);
    ctx.strokeStyle = AXIS;
    ctx.lineWidth = 1;
    ctx.strokeRect(o.left, o.top, o.width, o.height);
    ctx.font = o.font;
    ctx.textAlign = 'left';
    ctx.textBaseline = 'middle';
    chart.data.datasets.forEach((ds, i) => {
      const y = o.top + o.firstRow + i * o.rowGap;
      ctx.strokeStyle = ds.borderColor;
      ctx.lineWidth = 1.2;
      ctx.setLineDash(ds.legendDash || []);
      ctx.beginPath();
      ctx.moveTo(o.left + o.lineStart, y);
      ctx.lineTo(o.left + o.lineEnd, y);
      ctx.stroke();
      ctx.setLineDash([]);
      ctx.fillStyle = '#000000';
      ctx.fillText(ds.label, o.left + o.textStart, y + 0.5);
    });
    ctx.restore();
  }
};

// text callout with arrows placed in data coordinates
const callout = {
  id: 'callout',
  afterDraw(chart, args, o) {
    if (!o || !o.lines) return;
    const { ctx } = chart;
    const xs = chart.scales.x, ys = chart.scales.y;
    const P = pt => [xs.getPixelForValue(pt[0]), ys.getPixelForValue(pt[1])];
    ctx.save();
    ctx.fillStyle = '#000000';
    ctx.font = o.font;
    ctx.textAlign = 'center';
    ctx.textBaseline = 'middle';
    o.lines.forEach((t, i) => {
      const [px, py] = P(o.textAt[i]);
      ctx.fillText(t, px, py);
    });
    const [ox, oy] = P(o.from);
    ctx.strokeStyle = '#000000';
    ctx.lineWidth = 1;
    o.tips.forEach(tip => {
      const [tx, ty] = P(tip);
      const ang = Math.atan2(ty - oy, tx - ox);
      const len = 11, half = 4.6;
      const bx = tx - len * Math.cos(ang), by = ty - len * Math.sin(ang);
      ctx.beginPath();
      ctx.moveTo(ox, oy);
      ctx.lineTo(bx, by);
      ctx.stroke();
      ctx.beginPath();
      ctx.moveTo(tx, ty);
      ctx.lineTo(bx + half * Math.sin(ang), by - half * Math.cos(ang));
      ctx.lineTo(bx - half * Math.sin(ang), by + half * Math.cos(ang));
      ctx.closePath();
      ctx.fill();
    });
    ctx.restore();
  }
};

function lineSet(label, flat, color, order, dash) {
  return {
    label,
    data: toPoints(flat),
    borderColor: color,
    borderWidth: 1,
    borderDash: dash || [],
    legendDash: dash ? [12, 7] : [],
    borderJoinStyle: 'round',
    pointRadius: 0,
    tension: 0,
    fill: false,
    order
  };
}

function makePanel(id, datasets, g) {
  const tickFont = { family: SERIF, size: 20 };
  return new Chart(document.getElementById(id), {
    type: 'line',
    data: { datasets },
    options: {
      responsive: false,
      animation: false,
      devicePixelRatio: 1,
      events: [],
      parsing: false,
      layout: { padding: { left: 0, top: g.top, right: 1225 - g.right, bottom: 0 } },
      plugins: {
        legend: { display: false },
        tooltip: { enabled: false },
        panelText: { items: g.texts },
        boxLegend: g.legend,
        callout: g.callout || {}
      },
      scales: {
        x: {
          type: 'logarithmic',
          position: 'bottom',
          min: g.xMin,
          max: 10000,
          grid: { display: false, drawTicks: false, tickLength: 0 },
          border: { display: false },
          afterBuildTicks: s => { s.ticks = xDecades.map(v => ({ value: v })); },
          afterFit: s => { s.height = 628 - g.bottom; },
          ticks: {
            autoSkip: false, maxRotation: 0, minRotation: 0,
            padding: g.xPad, color: AXIS, font: tickFont,
            callback: v => xDecadeText[xDecades.indexOf(v)]
          }
        },
        y: {
          type: 'linear',
          position: 'left',
          min: g.yTicks[0],
          max: g.yTicks[g.yTicks.length - 1],
          grid: { display: false, drawTicks: false, tickLength: 0 },
          border: { display: false },
          afterBuildTicks: s => { s.ticks = g.yTicks.map(v => ({ value: v })); },
          afterFit: s => { s.width = g.left; },
          ticks: { padding: 9, color: AXIS, font: tickFont, callback: v => String(v) }
        }
      }
    },
    plugins: [frame, panelText, boxLegend, callout]
  });
}

// (a) rotor speed sweep
makePanel('panelA', [
  lineSet(rpmLabels[0], spl3000, '#0072BD', 3),
  lineSet(rpmLabels[1], spl3500, '#D95319', 2),
  lineSet(rpmLabels[2], spl4000, '#EDB120', 1)
], {
  left: 71.3, right: 572.7, top: 16.6, bottom: 518.3, xMin: 70, xPad: 10,
  yTicks: yTicksA,
  texts: [
    { text: 'f, Hz', x: 321.5, y: 575, font: '23px ' + SERIF },
    { text: 'SPL, dB', x: 28.5, y: 270, rotate: -Math.PI / 2, font: '23px ' + SERIF },
    { text: '(a)', x: 299.5, y: 621, font: 'bold 21px ' + SERIF, color: '#000000' }
  ],
  legend: { left: 438.5, top: 32.5, width: 119, height: 80, firstRow: 15.2, rowGap: 25,
            lineStart: 5.5, lineEnd: 65, textStart: 68.5, font: '19px ' + SANS }
});

// (b) propeller, motor and background noise
makePanel('panelB', [
  lineSet(sourceLabels[0], propellerNoise, '#0072BD', 3),
  lineSet(sourceLabels[1], motorNoise, '#FF00FF', 2, [9, 5]),
  lineSet(sourceLabels[2], backgroundNoise, '#000000', 1)
], {
  left: 712.5, right: 1203.3, top: 29.3, bottom: 520.3, xMin: 50, xPad: 8,
  yTicks: yTicksB,
  texts: [
    { text: 'f, Hz', x: 958, y: 575, font: '23px ' + SERIF },
    { text: 'SPL, dB', x: 661, y: 273.5, rotate: -Math.PI / 2, font: '23px ' + SERIF },
    { text: '(b)', x: 927.5, y: 621, font: 'bold 21px ' + SERIF, color: '#000000' }
  ],
  legend: { left: 976.7, top: 14, width: 227.6, height: 79.3, firstRow: 16, rowGap: 25,
            lineStart: 6, lineEnd: 62.6, textStart: 66.3, font: '18.8px ' + SANS },
  callout: { lines: noteLines, textAt: noteTextAt, from: noteFrom, tips: noteTips,
             font: '18.8px ' + SANS }
});
</script>
</body>
</html>
